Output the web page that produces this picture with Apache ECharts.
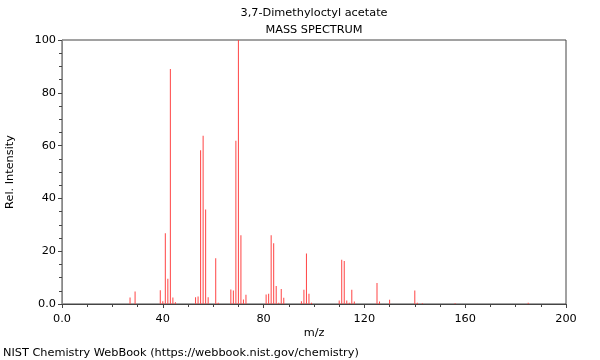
<!DOCTYPE html>
<html>
<head>
<meta charset="utf-8">
<script src="https://cdn.jsdelivr.net/npm/echarts@6/dist/echarts.min.js"></script>
<style>html,body{margin:0;padding:0;background:#fff}#c{width:600px;height:360px}</style>
</head>
<body>
<div id="c"></div>
<script>
var mz = [27,29,39,40,41,42,43,44,45,53,54,55,56,57,58,61,62,67,68,69,70,71,72,73,81,82,83,84,85,86,87,88,95,96,97,98,99,110,111,112,113,114,115,116,125,126,130,140,141,143,156,185];
var intensity = [2.5,4.7,5.2,1.0,26.8,9.6,89,2.5,0.7,2.6,2.8,58.2,63.7,35.8,2.6,17.3,0.5,5.5,5.1,61.8,100,26,1.7,3.5,3.6,3.9,26,23,6.8,0.5,5.7,2.4,1.0,5.4,19.1,3.9,0.5,1.3,16.8,16.3,1.3,0.5,5.4,0.9,8.0,0.9,1.6,5.1,0.5,0.3,0.3,0.5];
var titleText = "3,7-Dimethyloctyl acetate";
var subTitleText = "MASS SPECTRUM";
var xName = "m/z";
var yName = "Rel. Intensity";
var footer = "NIST Chemistry WebBook (https://webbook.nist.gov/chemistry)";

var FONT = "DejaVu Sans";
var FS = 11.3;
var data = mz.map(function(m,i){return [m,intensity[i]];});
var chart = echarts.init(document.getElementById('c'), null, {renderer:'canvas'});
chart.setOption({
  animation:false,
  backgroundColor:'#fff',
  textStyle:{fontFamily:FONT},
  graphic:[
    {type:'text',x:314,y:13,style:{text:titleText,fontSize:FS,fontFamily:FONT,fill:'#000',align:'center',verticalAlign:'middle'}},
    {type:'text',x:314,y:30,style:{text:subTitleText,fontSize:FS,fontFamily:FONT,fill:'#000',align:'center',verticalAlign:'middle'}},
    {type:'text',x:3,y:353,style:{text:footer,fontSize:FS,fontFamily:FONT,fill:'#000',align:'left',verticalAlign:'middle'}},
    {type:'text',x:314,y:333,style:{text:xName,fontSize:FS,fontFamily:FONT,fill:'#000',align:'center',verticalAlign:'middle'}},
    {type:'text',x:10,y:172,rotation:Math.PI/2,style:{text:yName,fontSize:FS,fontFamily:FONT,fill:'#000',align:'center',verticalAlign:'middle'}}
  ],
  grid:{left:62,right:34,top:40,bottom:56,show:true,borderColor:'#444',borderWidth:1},
  xAxis:{
    type:'value',min:0,max:200,interval:40,
    axisLine:{show:true,lineStyle:{color:'#444',width:1}},
    axisTick:{show:true,length:4,lineStyle:{color:'#444'}},
    minorTick:{show:true,splitNumber:4,length:3,lineStyle:{color:'#444'}},
    splitLine:{show:false},
    axisLabel:{fontSize:FS,color:'#000',margin:10,fontFamily:FONT,formatter:function(v){return v===0?'0.0':String(v);}}
  },
  yAxis:{
    type:'value',min:0,max:100,interval:20,
    axisLine:{show:true,lineStyle:{color:'#888',width:1}},
    axisTick:{show:true,length:4,lineStyle:{color:'#444'}},
    minorTick:{show:true,splitNumber:4,length:3,lineStyle:{color:'#444'}},
    splitLine:{show:false},
    axisLabel:{fontSize:FS,color:'#000',margin:6,fontFamily:FONT,formatter:function(v){return v===0?'0.0':String(v);}}
  },
  series:[{
    type:'bar',data:data,barWidth:1,
    itemStyle:{color:'#ff4444'},
    silent:true
  }]
});
</script>
</body>
</html>
